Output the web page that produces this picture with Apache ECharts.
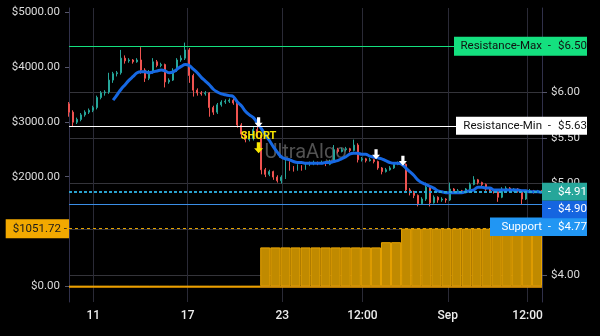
<!DOCTYPE html>
<html><head><meta charset="utf-8">
<script src="https://cdn.jsdelivr.net/npm/echarts@6/dist/echarts.min.js"></script>
<style>html,body{margin:0;padding:0;background:#000;}#c{width:600px;height:336px;}</style>
</head><body><div id="c"></div>
<script>
// ---- price candles: [open, close, low, high] ----
const candles = [
[5.87,5.78,5.73,5.89],[5.78,5.67,5.62,5.80],[5.67,5.70,5.65,5.72],[5.70,5.75,5.68,5.77],[5.75,5.78,5.73,5.80],
[5.78,5.80,5.76,5.82],[5.80,5.83,5.78,5.85],[5.83,5.94,5.81,5.96],[5.94,5.99,5.92,6.01],[5.99,6.00,5.96,6.02],
[6.00,6.13,5.98,6.21],[6.13,6.20,6.10,6.22],[6.20,6.21,6.17,6.23],[6.21,6.37,6.19,6.46],[6.37,6.34,6.31,6.40],
[6.34,6.35,6.32,6.37],[6.35,6.33,6.31,6.36],[6.33,6.35,6.32,6.37],[6.35,6.24,6.20,6.49],[6.24,6.15,6.11,6.26],
[6.15,6.22,6.13,6.24],[6.22,6.33,6.20,6.37],[6.33,6.29,6.27,6.35],[6.29,6.30,6.27,6.32],[6.30,6.11,6.05,6.31],
[6.11,6.13,6.09,6.15],[6.13,6.24,6.12,6.26],[6.24,6.35,6.22,6.37],[6.35,6.37,6.33,6.40],[6.37,6.46,6.35,6.54],
[6.46,6.18,6.10,6.48],[6.18,6.02,5.95,6.20],[6.02,5.99,5.96,6.04],[5.99,5.98,5.96,6.01],[5.98,5.99,5.96,6.01],
[5.99,5.83,5.73,6.00],[5.83,5.78,5.75,5.85],[5.78,5.86,5.76,5.88],[5.86,5.89,5.84,5.91],[5.89,5.90,5.87,5.92],
[5.90,5.91,5.88,5.93],[5.91,5.88,5.86,5.93],[5.88,5.64,5.61,5.89],[5.64,5.54,5.50,5.66],[5.54,5.48,5.45,5.56],
[5.48,5.49,5.46,5.52],[5.49,5.59,5.47,5.62],[5.59,5.53,5.50,5.64],[5.53,5.15,5.10,5.55],[5.15,5.10,5.07,5.17],
[5.10,5.13,5.08,5.15],[5.13,5.07,5.04,5.14],[5.07,5.03,5.01,5.09],[5.03,5.07,5.00,5.09],[5.07,5.24,5.05,5.28],
[5.24,5.17,5.14,5.25],[5.17,5.15,5.13,5.19],[5.15,5.19,5.14,5.21],[5.19,5.16,5.14,5.20],[5.16,5.20,5.15,5.22],
[5.20,5.22,5.19,5.24],[5.22,5.23,5.20,5.25],[5.23,5.22,5.20,5.24],[5.22,5.23,5.21,5.25],[5.23,5.21,5.19,5.24],
[5.21,5.24,5.20,5.26],[5.24,5.37,5.23,5.42],[5.37,5.35,5.33,5.39],[5.35,5.37,5.34,5.39],[5.37,5.38,5.35,5.40],
[5.38,5.36,5.34,5.39],[5.36,5.42,5.35,5.48],[5.42,5.26,5.23,5.44],[5.26,5.27,5.24,5.29],[5.27,5.25,5.23,5.28],
[5.25,5.26,5.24,5.28],[5.26,5.24,5.22,5.27],[5.24,5.17,5.15,5.25],[5.17,5.13,5.10,5.18],[5.13,5.15,5.12,5.17],
[5.15,5.17,5.14,5.19],[5.17,5.21,5.16,5.22],[5.21,5.22,5.20,5.24],[5.22,5.21,5.19,5.24],[5.21,4.93,4.90,5.22],
[4.93,4.90,4.87,4.95],[4.90,4.87,4.84,4.92],[4.87,4.78,4.75,4.88],[4.78,4.83,4.77,4.85],[4.83,4.96,4.81,5.01],
[4.96,4.79,4.75,4.97],[4.79,4.85,4.78,4.87],[4.85,4.82,4.79,4.86],[4.82,4.83,4.80,4.85],[4.83,4.82,4.79,4.84],
[4.82,4.94,4.81,5.01],[4.94,4.91,4.89,4.95],[4.91,4.92,4.90,4.94],[4.92,4.91,4.89,4.93],[4.91,4.94,4.90,4.95],
[4.94,4.99,4.93,5.01],[4.99,5.04,4.98,5.08],[5.04,5.01,4.99,5.05],[5.01,4.99,4.97,5.02],[4.99,4.94,4.92,5.00],
[4.94,4.92,4.90,4.95],[4.92,4.91,4.89,4.93],[4.91,4.85,4.80,4.92],[4.85,4.94,4.84,4.96],[4.94,4.95,4.93,4.97],
[4.95,4.92,4.90,4.96],[4.92,4.94,4.91,4.95],[4.94,4.92,4.90,4.95],[4.92,4.83,4.77,4.93],[4.83,4.91,4.82,4.93],
[4.91,4.92,4.90,4.94],[4.92,4.91,4.89,4.93],[4.91,4.92,4.90,4.93],[4.92,4.91,4.90,4.93]
];
// ---- moving average (null where not yet defined) ----
const maValues = [
null,null,null,null,null,null,null,null,null,null,null,
5.91,5.97,6.03,6.08,6.13,6.17,6.21,6.22,6.22,6.21,6.22,6.23,6.24,6.23,6.21,6.22,6.25,6.28,6.30,
6.29,6.25,6.21,6.16,6.12,6.08,6.03,6.00,5.98,5.97,5.96,5.95,5.89,5.85,5.79,5.75,5.72,5.66,5.60,5.53,
5.47,5.40,5.34,5.29,5.27,5.26,5.24,5.23,5.23,5.22,5.22,5.22,5.22,5.22,5.23,5.23,5.24,5.25,5.27,5.29,
5.32,5.33,5.33,5.32,5.32,5.30,5.29,5.28,5.27,5.25,5.23,5.22,5.22,5.21,5.17,5.13,5.09,5.04,5.01,4.99,
4.97,4.95,4.92,4.91,4.90,4.90,4.90,4.90,4.90,4.91,4.92,4.93,4.96,4.96,4.95,4.95,4.93,4.93,4.93,4.93,
4.93,4.93,4.93,4.92,4.92,4.91,4.91,4.91,4.90
];
// ---- equity histogram (left axis, $) ----
const equity = [
0,0,0,0,0,0,0,0,0,0,0,0,0,0,0,0,0,0,0,
710,710,710,710,710,710,710,710,710,710,710,710,
805,805,
1051.72,1051.72,1051.72,1051.72,1051.72,1051.72,1051.72,1051.72,1051.72,1051.72,1051.72,1051.72,1051.72,1051.72
];
// ---- ticks ----
const xTickPos = [6.06, 29.6, 53.2, 73.2, 94.5, 114.4];
const xTickLabels = ['11', '17', '23', '12:00', 'Sep', '12:00'];
const leftTicks = [0, 2000, 3000, 4000, 5000];
const rightTicks = [4, 4.5, 5, 5.5, 6, 6.5];
// ---- levels ----
const resistanceMax = 6.50, resistanceMin = 5.63, support = 4.77;
const lastPrice = 4.91, lastMA = 4.90, equityLast = 1051.72;
// ---- signals [index, price] ----
const arrowSignals = [[47.3, 5.67], [76.6, 5.32], [83.3, 5.25]];
const shortArrow = [47.3, 5.39];
const shortText = [47.3, 5.52];

const money = v => '$' + v.toFixed(2);
const candleData = candles.map((c, i) => [i, c[0], c[1], c[2], c[3]]);
const maData = maValues.map((v, i) => [i, v]).filter(p => p[1] !== null);
const arrowPath = 'path://M3,0H7V6H10L5,11L0,6H3Z';
const FONT = 'Roboto';

function tag(value, title, bg, fg, lineStyle, opts) {
  const rich = {
    t: {width: opts.tw || 0, color: fg, fontSize: 11.5, fontFamily: FONT, lineHeight: opts.h},
    d: {width: 9, color: fg, fontSize: 11.5, fontFamily: FONT, lineHeight: opts.h},
    v: {width: 36, color: fg, fontSize: 11.5, fontFamily: FONT, lineHeight: opts.h}
  };
  return {
    yAxis: value,
    lineStyle: lineStyle,
    label: {
      show: true,
      position: opts.pos,
      distance: [-45, opts.dy || 0],
      backgroundColor: bg,
      padding: [0, 0, 0, opts.pl || 0],
      formatter: (title ? '{t|' + title + '}' : '') + '{d|-}{v|' + money(value) + '}',
      rich: rich
    }
  };
}

const chart = echarts.init(document.getElementById('c'), null, {renderer: 'canvas'});
chart.setOption({
  animation: false,
  backgroundColor: '#000',
  textStyle: {fontFamily: FONT},
  grid: {left: 69, right: 58, top: 8, bottom: 34},
  graphic: [{
    type: 'text', x: 305.5, y: 153, z: 1,
    style: {text: 'UltraAlgo', fill: 'rgba(110,110,110,0.75)', font: '20px Roboto', textAlign: 'center', textVerticalAlign: 'middle'}
  }],
  xAxis: [{
    type: 'value', min: 0, max: 118,
    axisLine: {show: true, lineStyle: {color: '#393955'}},
    axisTick: {show: true, length: 4, customValues: xTickPos, lineStyle: {color: '#2a2a36'}},
    axisLabel: {customValues: xTickPos, color: '#ececec', fontSize: 12, fontWeight: 500, margin: 8,
      formatter: v => xTickLabels[xTickPos.indexOf(v)] || ''},
    splitLine: {show: true, lineStyle: {color: '#2a2a36'}}
  }, {
    type: 'category', show: false, boundaryGap: true,
    data: equity.map((_, i) => i)
  }],
  yAxis: [{
    type: 'value', position: 'left', min: -286.5, max: 5078.5,
    axisLine: {show: true, lineStyle: {color: '#30304a'}},
    axisTick: {show: true, length: 4, customValues: leftTicks, lineStyle: {color: '#55556a'}},
    axisLabel: {customValues: leftTicks, color: '#dcdcdc', fontSize: 11.5, margin: 9, formatter: money},
    splitLine: {show: false}
  }, {
    type: 'value', position: 'right', min: 3.705, max: 6.918,
    axisLine: {show: true, lineStyle: {color: '#30304a'}},
    axisTick: {show: true, length: 5, customValues: rightTicks, lineStyle: {color: '#55556a'}},
    axisLabel: {customValues: rightTicks, color: '#dcdcdc', fontSize: 11.5, margin: 9, formatter: money},
    splitLine: {show: true, lineStyle: {color: '#34343a'}}
  }],
  series: [{
    name: 'equity', type: 'bar', xAxisIndex: 1, yAxisIndex: 0,
    data: equity, barWidth: '100%', z: 1,
    itemStyle: {color: '#c08a00', borderColor: '#e8a300', borderWidth: 1},
    markLine: {
      silent: true, symbol: ['none', 'none'],
      data: [
        {yAxis: 0, lineStyle: {color: '#f0a000', width: 1.5, type: 'solid'}, label: {show: false}},
        {yAxis: equityLast, lineStyle: {color: '#e6a300', width: 1, type: [3, 3]},
         label: {show: true, position: 'start', distance: 0, backgroundColor: '#f2a900', color: '#1a1a1a',
           fontSize: 11.5, fontFamily: FONT, padding: [3, 2, 3, 7], lineHeight: 13, formatter: money(equityLast) + ' -'}}
      ]
    }
  }, {
    name: 'price', type: 'candlestick', xAxisIndex: 0, yAxisIndex: 1,
    data: candleData, encode: {x: 0, y: [1, 2, 3, 4]}, barWidth: 1.4, z: 3,
    itemStyle: {color: '#26a69a', color0: '#ef5350', borderColor: '#26a69a', borderColor0: '#ef5350', borderWidth: 1},
    markLine: {
      silent: true, symbol: ['none', 'none'], z: 10,
      data: [
        tag(resistanceMax, 'Resistance-Max', '#14e07f', '#111', {color: '#14e07f', width: 1, type: 'solid'}, {pos: 'insideEnd', h: 19, tw: 80, pl: 8}),
        tag(resistanceMin, 'Resistance-Min', '#ffffff', '#111', {color: '#ffffff', width: 1, type: 'solid'}, {pos: 'insideEnd', h: 18, tw: 78, pl: 8}),
        tag(support, 'Support', '#2196f3', '#fff', {color: '#3a8ee6', width: 1, type: 'solid'}, {pos: 'insideEndBottom', dy: 13, h: 18.5, tw: 45, pl: 7}),
        tag(lastPrice, '', '#26a69a', '#fff', {color: '#2aa3d0', width: 2, type: [3, 2]}, {pos: 'insideEnd', h: 18})
      ]
    },
    markPoint: {
      silent: true,
      data: arrowSignals.map(p => ({coord: p, symbol: arrowPath, symbolSize: [8, 10], itemStyle: {color: '#ffffff'}, label: {show: false}}))
        .concat([
          {coord: shortArrow, symbol: arrowPath, symbolSize: [9, 11], itemStyle: {color: '#f7e600'}, label: {show: false}},
          {coord: shortText, symbol: 'rect', symbolSize: 1, itemStyle: {color: 'rgba(0,0,0,0)'},
           label: {show: true, position: 'inside', formatter: 'SHORT', color: '#f7e600', fontSize: 11, fontWeight: 'bold', fontFamily: FONT}}
        ])
    }
  }, {
    name: 'ma', type: 'line', xAxisIndex: 0, yAxisIndex: 1,
    data: maData, showSymbol: false, smooth: 0.4, z: 4,
    lineStyle: {color: '#1668e3', width: 3},
    markLine: {
      silent: true, symbol: ['none', 'none'], z: 11,
      data: [tag(lastMA, '', '#1565e0', '#fff', {color: 'rgba(0,0,0,0)', width: 0}, {pos: 'insideEndBottom', dy: 8, h: 17.5})]
    }
  }]
});
</script>
</body></html>
